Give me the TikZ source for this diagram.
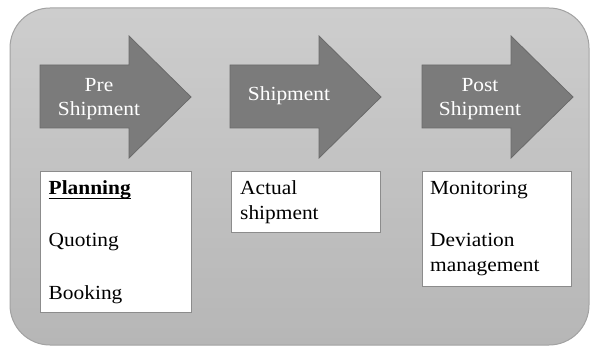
\documentclass[tikz,border=0pt]{standalone}
\usepackage{fontspec}
\newfontfamily\tnr{Liberation Serif}[FakeStretch=1.07]
\definecolor{bgtop}{HTML}{CDCDCD}
\definecolor{bgbot}{HTML}{B6B6B6}
\definecolor{bgedge}{HTML}{A2A2A2}
\definecolor{arrfill}{HTML}{7B7B7B}
\definecolor{arredge}{HTML}{6A6A6A}
\definecolor{boxedge}{HTML}{8C8C8C}
\tikzset{
  paneledge/.style={draw=bgedge, line width=1pt, rounded corners=40pt},
  stagearrow/.style={draw=arredge, line width=0.8pt, fill=arrfill},
  infobox/.style={draw=boxedge, line width=0.8pt, fill=white},
  stagetext/.style={text=white, font=\tnr\fontsize{20}{24}\selectfont, inner sep=0pt, align=center},
  boxtext/.style={text=black, font=\tnr\fontsize{20}{25}\selectfont, inner sep=0pt, anchor=base west}
}
\begin{document}
\begin{tikzpicture}[x=1pt,y=-1pt]
\useasboundingbox (0,0) rectangle (591,347);
% background panel with stepped gradient
\begin{scope}
  \clip[rounded corners=40pt] (10,8) rectangle (589,345);
  \foreach \i in {0,...,33}{
    \pgfmathtruncatemacro{\p}{\i*3}
    \fill[bgbot!\p!bgtop] (10,8+\i*10) rectangle (589,8+\i*10+10.5);
  }
\end{scope}
\path[paneledge] (10,8) rectangle (589,345);
% arrows
\foreach \x/\n in {40/a1,230/a2,422/a3}{
  \draw[stagearrow] (\x,65) -- (\x+89,65) -- (\x+89,36) -- (\x+151,97) -- (\x+89,158) -- (\x+89,128) -- (\x,128) -- cycle;
}
\node[stagetext, anchor=base] (pre1) at (99,92) {Pre};
\node[stagetext, anchor=base] (pre2) at (99,116) {Shipment};
\node[stagetext, anchor=base] (ship) at (289,101) {Shipment};
\node[stagetext, anchor=base] (post1) at (480,92) {Post};
\node[stagetext, anchor=base] (post2) at (480,116) {Shipment};
% boxes
\path[infobox] (40,171) rectangle (191,312);
\path[infobox] (231,171) rectangle (380,232);
\path[infobox] (422,171) rectangle (571,286);
% box texts
\node[boxtext] (plan) at (48.5,195) {\textbf{Planning}};
\draw[line width=1.4pt] ([yshift=-3.5pt]plan.base west) -- ([yshift=-3.5pt]plan.base east);
\node[boxtext] (quot) at (48.5,247) {Quoting};
\node[boxtext] (book) at (48.5,299) {Booking};
\node[boxtext] (act1) at (240,195) {Actual};
\node[boxtext] (act2) at (240,220) {shipment};
\node[boxtext] (mon) at (430,194.5) {Monitoring};
\node[boxtext] (dev1) at (430,246.5) {Deviation};
\node[boxtext] (dev2) at (430,271) {management};
\end{tikzpicture}
\end{document}
